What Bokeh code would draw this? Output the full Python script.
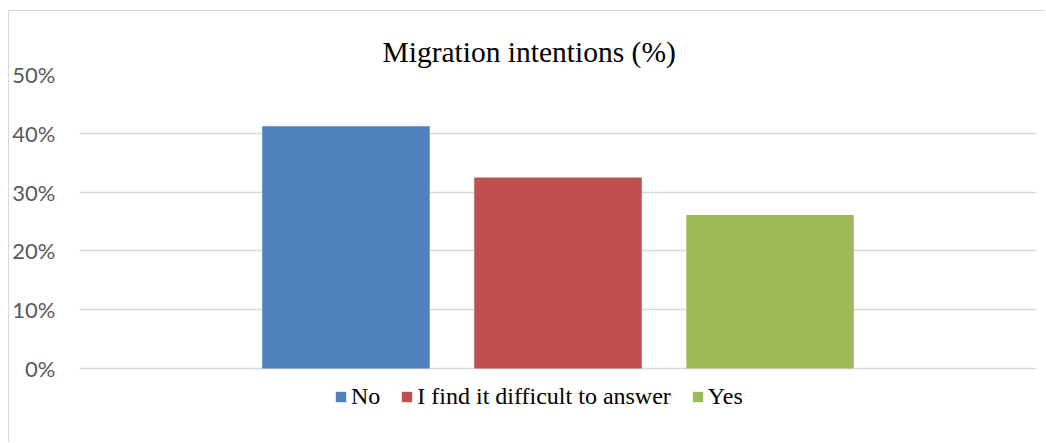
from bokeh.plotting import figure
from bokeh.models import Range1d, FactorRange, NumeralTickFormatter, FixedTicker, ColumnDataSource
from bokeh.embed import file_html
from bokeh.resources import INLINE

# ---- data ----
categories = ["No", "I find it difficult to answer", "Yes"]
values = [0.412, 0.325, 0.261]
colors = ["#4f81bd", "#c0504d", "#9bbb59"]
y_ticks = [0.0, 0.1, 0.2, 0.3, 0.4, 0.5]
title_text = "Migration intentions (%)"

source = ColumnDataSource(dict(cat=categories, val=values, color=colors))

p = figure(
    width=1037, height=432,
    x_range=FactorRange(*categories, range_padding=0.5043, range_padding_units="percent"),
    y_range=Range1d(-0.1276, 0.5),
    x_axis_location=None,
    output_backend="svg", toolbar_location=None,
    min_border_left=68, min_border_right=10, min_border_top=63, min_border_bottom=0,
    background_fill_color="white", border_fill_color="white",
)
p.outline_line_color = None

p.vbar(x="cat", top="val", bottom=0, width=0.79, color="color", line_color=None,
       source=source, legend_field="cat")

# title
p.title.text = title_text
p.title.align = "left"
p.title.offset = 303
p.title.standoff = 13
p.title.text_font = "Liberation Serif"
p.title.text_font_size = "29.5px"
p.title.text_font_style = "normal"
p.title.text_color = "#000000"

# y axis
yax = p.yaxis[0]
yax.ticker = FixedTicker(ticks=y_ticks)
yax.formatter = NumeralTickFormatter(format="0%")
yax.axis_line_color = None
yax.major_tick_line_color = None
yax.minor_tick_line_color = None
yax.major_tick_out = 0
yax.major_tick_in = 0
yax.major_label_standoff = 24
yax.major_label_text_font = "Lato"
yax.major_label_text_font_size = "22px"
yax.major_label_text_color = "#595959"

p.ygrid.grid_line_color = "#d9d9d9"
p.ygrid.grid_line_width = 1.3
p.xgrid.visible = False

# legend
leg = p.legend[0]
leg.orientation = "horizontal"
leg.location = (255, 33)
leg.padding = 0
leg.margin = 0
leg.spacing = 20
leg.glyph_width = 13
leg.glyph_height = 13
leg.label_standoff = 4
leg.label_text_font = "Liberation Serif"
leg.label_text_font_size = "24px"
leg.label_text_color = "#000000"
leg.border_line_color = None
leg.background_fill_alpha = 0

p.styles = {"border-left": "1px solid #d9d9d9", "border-top": "1px solid #d9d9d9",
            "margin-left": "8px", "margin-top": "10px"}

open("out.html", "w").write(file_html(p, INLINE))
